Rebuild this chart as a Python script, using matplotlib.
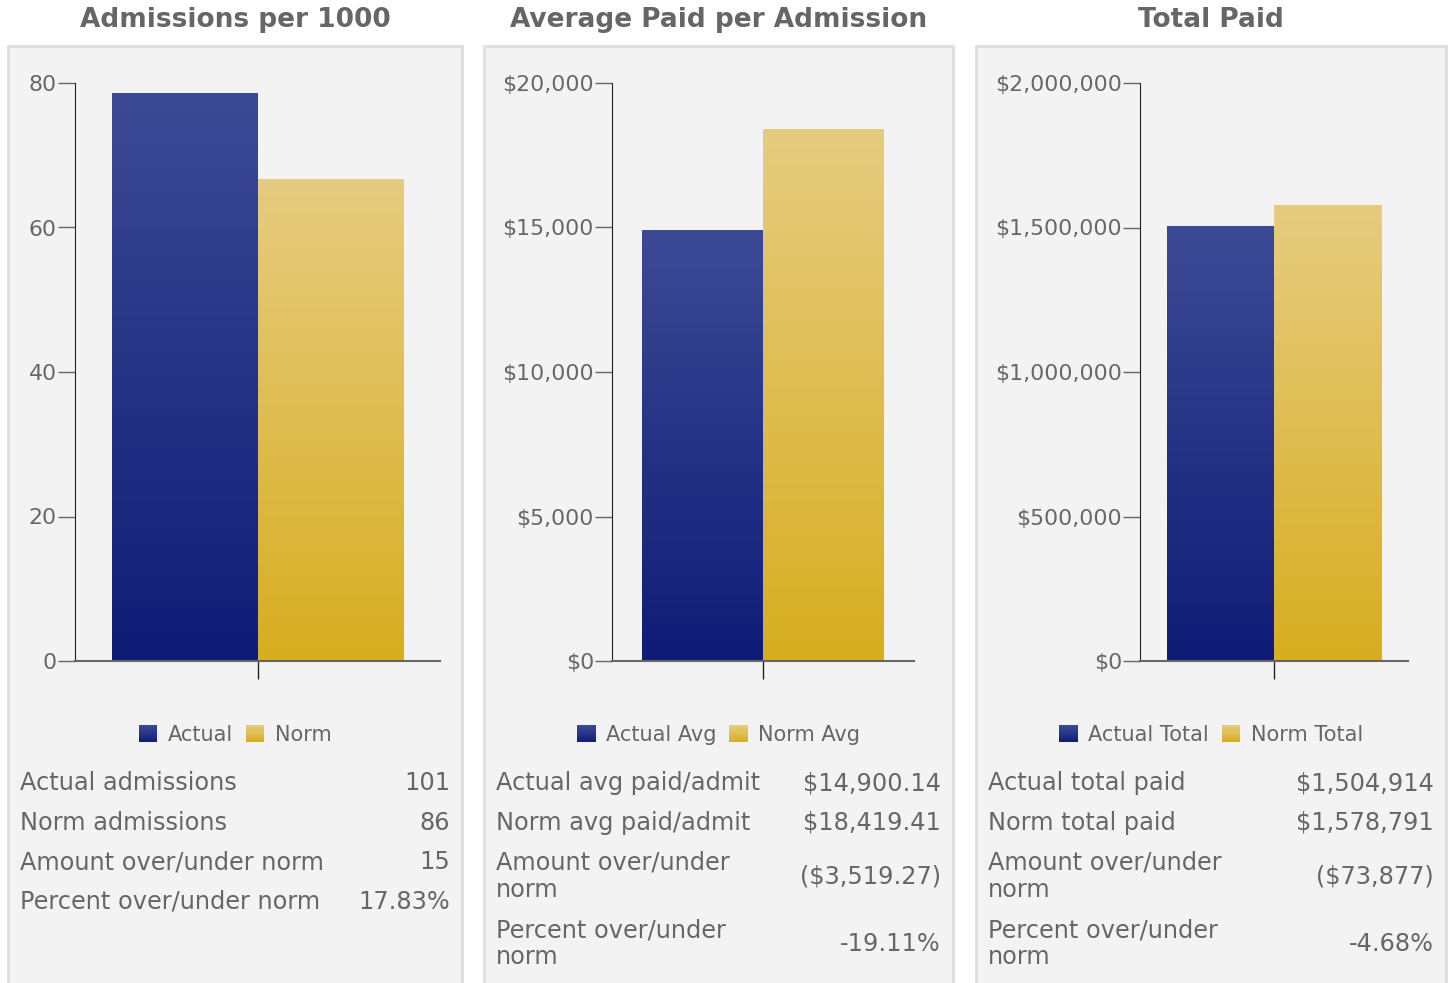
import numpy as np
import matplotlib
matplotlib.use("Agg")
import matplotlib.pyplot as plt
from matplotlib.patches import Rectangle, Patch
from matplotlib.colors import LinearSegmentedColormap
from matplotlib.ticker import FuncFormatter
from matplotlib.legend_handler import HandlerBase

plt.rcParams['font.family'] = ['DejaVu Sans']

# data
titles = ["Admissions per 1000", "Average Paid per Admission", "Total Paid"]
series_names = [["Actual", "Norm"], ["Actual Avg", "Norm Avg"], ["Actual Total", "Norm Total"]]
adm_values = [78.6, 66.7]
avg_values = [14900.14, 18419.41]
tot_values = [1504914, 1578791]
y_max = [80, 20000, 2000000]
y_step = [20, 5000, 500000]

adm_labels = ["Actual admissions", "Norm admissions", "Amount over/under norm", "Percent over/under norm"]
adm_table = ["101", "86", "15", "17.83%"]
avg_labels = ["Actual avg paid/admit", "Norm avg paid/admit", "Amount over/under\nnorm", "Percent over/under\nnorm"]
avg_table = ["$14,900.14", "$18,419.41", "($3,519.27)", "-19.11%"]
tot_labels = ["Actual total paid", "Norm total paid", "Amount over/under\nnorm", "Percent over/under\nnorm"]
tot_table = ["$1,504,914", "$1,578,791", "($73,877)", "-4.68%"]

W, H = 1450, 983
TXT = '#666666'
actual_cmap = LinearSegmentedColormap.from_list('act', ['#0e1c76', '#3c4a96'])
norm_cmap = LinearSegmentedColormap.from_list('nrm', ['#d7ae20', '#e6cc80'])

# panel geometry in pixels: (panel left, panel right, axes left, axes right, axes top)
panels = [(8, 462, 75, 440, 83), (484, 953, 612, 914, 83), (976, 1446, 1140, 1408, 83)]
axes_bottom = 661


def fx(px):
    return px / W


def fy(py):
    return 1 - py / H


def money(v, pos):
    return f"${v:,.0f}"


# legend square with the same vertical gradient as the bars
class GradHandler(HandlerBase):
    def __init__(self, cmap, n=16):
        super().__init__()
        self.cmap = cmap
        self.n = n

    def create_artists(self, legend, orig_handle, xdescent, ydescent, width, height, fontsize, trans):
        arts = []
        for k in range(self.n):
            arts.append(Rectangle((-xdescent, -ydescent + height * k / self.n), width,
                                  height / self.n + 0.3, facecolor=self.cmap((k + 0.5) / self.n),
                                  edgecolor='none', transform=trans))
        return arts


fig = plt.figure(figsize=(W / 100, H / 100), dpi=100)

all_values = [adm_values, avg_values, tot_values]
all_labels = [adm_labels, avg_labels, tot_labels]
all_table = [adm_table, avg_table, tot_table]

for i, (pl, pr, al, ar, at) in enumerate(panels):
    fig.patches.append(Rectangle((fx(pl), fy(H + 5)), fx(pr - pl), (H + 5 - 46) / H,
                                 transform=fig.transFigure, facecolor='#f3f3f3',
                                 edgecolor='#dedede', linewidth=2, zorder=-5))
    fig.text(fx((pl + pr) / 2), fy(20), titles[i], ha='center', va='center',
             fontsize=19, fontweight='bold', color=TXT)

    ax = fig.add_axes([fx(al), fy(axes_bottom), fx(ar - al), (axes_bottom - at) / H])
    ax.set_facecolor('none')
    bars = ax.bar([-0.2, 0.2], all_values[i], width=0.4, color=['#26338a', '#dfbd50'], zorder=2)
    for b, cmap in zip(bars, [actual_cmap, norm_cmap]):
        grad = np.linspace(0, 1, 256).reshape(-1, 1)
        im = ax.imshow(grad, cmap=cmap, origin='lower', aspect='auto', zorder=3,
                       extent=[b.get_x(), b.get_x() + b.get_width(), 0, b.get_height()])
        im.set_clip_path(b)
    ax.set_xlim(-0.5, 0.5)
    ax.set_ylim(0, y_max[i])
    ax.set_yticks(np.arange(0, y_max[i] + 1, y_step[i]))
    if i > 0:
        ax.yaxis.set_major_formatter(FuncFormatter(money))
    ax.set_xticks([0])
    ax.tick_params(axis='x', length=13, width=1, color='#222222', labelbottom=False)
    ax.tick_params(axis='y', length=12, width=1, color=TXT, labelcolor=TXT, labelsize=15.8, pad=1)
    for s in ['top', 'right']:
        ax.spines[s].set_visible(False)
    ax.spines['left'].set_color('#222222')
    ax.spines['bottom'].set_color('#666666')
    ax.spines['bottom'].set_linewidth(1.5)
    ax.spines['bottom'].set_zorder(4)

    h_act = Patch(label=series_names[i][0])
    h_norm = Patch(label=series_names[i][1])
    fig.legend(handles=[h_act, h_norm], loc='center', bbox_to_anchor=(fx((pl + pr) / 2), fy(735)),
               ncol=2, frameon=False, fontsize=15, labelcolor=TXT, handlelength=0.9,
               handleheight=0.9, handletextpad=0.5, columnspacing=0.6,
               handler_map={h_act: GradHandler(actual_cmap), h_norm: GradHandler(norm_cmap)})

    # summary table
    y = 763.5
    for lab, val in zip(all_labels[i], all_table[i]):
        n = lab.count('\n') + 1
        h = 39.5 + 28 * (n - 1)
        yc = y + h / 2
        fig.text(fx(pl + 12), fy(yc), lab, ha='left', va='center', fontsize=17.3,
                 color=TXT, linespacing=1.15)
        fig.text(fx(pr - 12), fy(yc), val, ha='right', va='center', fontsize=17.3, color=TXT)
        y += h

fig.savefig("out.png", dpi=100, facecolor='white')
